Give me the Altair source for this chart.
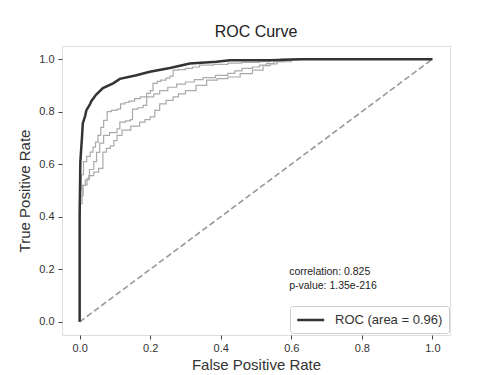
import altair as alt
import pandas as pd

# Main ROC curve (dark)
roc_fpr = [0, 0, 0.002, 0.007, 0.009, 0.016, 0.019, 0.03, 0.033, 0.047, 0.066, 0.095, 0.114,
           0.161, 0.199, 0.256, 0.3125, 0.388, 0.426, 0.54, 0.63, 1.0]
roc_tpr = [0, 0.40, 0.61, 0.71, 0.755, 0.786, 0.805, 0.83, 0.84, 0.865, 0.89, 0.908, 0.925,
           0.939, 0.952, 0.966, 0.983, 0.99, 0.996, 0.996, 1.0, 1.0]

# Gray ROC curves
g1_fpr = [0, 0, 0.005, 0.011, 0.02, 0.03, 0.038, 0.045, 0.052, 0.06, 0.068, 0.078, 0.09, 0.106,
          0.116, 0.128, 0.14, 0.156, 0.172, 0.19, 0.2, 0.208, 0.22, 0.23, 0.245, 0.256, 0.265,
          0.28, 0.30, 0.32, 0.34, 0.38, 0.42, 0.46, 0.51, 0.54, 0.57, 1.0]
g1_tpr = [0, 0.50, 0.56, 0.61, 0.63, 0.646, 0.665, 0.684, 0.71, 0.74, 0.767, 0.80, 0.805, 0.81,
          0.83, 0.835, 0.84, 0.85, 0.856, 0.87, 0.88, 0.908, 0.915, 0.92, 0.928, 0.935, 0.958,
          0.96, 0.965, 0.97, 0.977, 0.98, 0.985, 0.988, 0.99, 0.995, 1.0, 1.0]
g2_fpr = [0, 0, 0.01, 0.021, 0.028, 0.04, 0.048, 0.057, 0.068, 0.085, 0.106, 0.114, 0.13, 0.144,
          0.15, 0.165, 0.18, 0.19, 0.21, 0.227, 0.25, 0.275, 0.3, 0.325, 0.35, 0.385, 0.42, 0.44,
          0.46, 0.49, 0.51, 0.53, 0.55, 0.58, 1.0]
g2_tpr = [0, 0.48, 0.52, 0.545, 0.58, 0.61, 0.645, 0.68, 0.71, 0.72, 0.735, 0.76, 0.765, 0.77,
          0.81, 0.815, 0.824, 0.856, 0.868, 0.88, 0.893, 0.905, 0.913, 0.922, 0.93, 0.938, 0.946,
          0.955, 0.965, 0.97, 0.977, 0.983, 0.99, 1.0, 1.0]
g3_fpr = [0, 0, 0.007, 0.016, 0.026, 0.04, 0.054, 0.066, 0.076, 0.087, 0.097, 0.106, 0.12, 0.145,
          0.17, 0.185, 0.2, 0.213, 0.227, 0.245, 0.265, 0.28, 0.30, 0.33, 0.36, 0.39, 0.42, 0.455,
          0.49, 0.52, 0.54, 0.56, 0.6, 1.0]
g3_tpr = [0, 0.45, 0.52, 0.54, 0.557, 0.57, 0.584, 0.646, 0.66, 0.67, 0.69, 0.71, 0.73, 0.745,
          0.76, 0.77, 0.78, 0.805, 0.83, 0.843, 0.856, 0.868, 0.88, 0.9, 0.92, 0.926, 0.932, 0.945,
          0.958, 0.975, 0.982, 0.99, 1.0, 1.0]

diag_x = [0, 1]
diag_y = [0, 1]

ann_text = ["correlation: 0.825", "p-value: 1.35e-216"]
ann_x = [0.594, 0.594]
ann_y = [0.19, 0.137]

ticks = [0, 0.2, 0.4, 0.6, 0.8, 1.0]
legend_label = "ROC (area = 0.96)"

FONT = "Liberation Sans"

roc_df = pd.DataFrame({"fpr": roc_fpr, "tpr": roc_tpr, "order": range(len(roc_fpr)),
                       "label": legend_label})
gray_rows = []
for name, xs, ys in [("g1", g1_fpr, g1_tpr), ("g2", g2_fpr, g2_tpr), ("g3", g3_fpr, g3_tpr)]:
    for i, (a, b) in enumerate(zip(xs, ys)):
        gray_rows.append({"curve": name, "fpr": a, "tpr": b, "order": i})
gray_df = pd.DataFrame(gray_rows)
diag_df = pd.DataFrame({"fpr": diag_x, "tpr": diag_y})
ann_df = pd.DataFrame({"x": ann_x, "y": ann_y, "text": ann_text})

xscale = alt.Scale(domain=[-0.05, 1.05], nice=False, zero=False)
yscale = alt.Scale(domain=[-0.05, 1.05], nice=False, zero=False)

xaxis = alt.Axis(values=ticks, format=".1f", title="False Positive Rate", grid=False,
                 domain=False, tickColor="#444", tickSize=4, labelPadding=3,
                 labelFontSize=11, labelColor="#333", titleFontSize=15, titleColor="#333",
                 titleFontWeight="normal", labelFont=FONT, titleFont=FONT, titlePadding=4)
yaxis = alt.Axis(values=ticks, format=".1f", title="True Positive Rate", grid=False,
                 domain=False, tickColor="#444", tickSize=4, labelPadding=4,
                 labelFontSize=11, labelColor="#333", titleFontSize=15, titleColor="#333",
                 titleFontWeight="normal", labelFont=FONT, titleFont=FONT, titlePadding=6)

diag = alt.Chart(diag_df).mark_line(color="#999999", strokeWidth=1.6, strokeDash=[6, 3]).encode(
    x=alt.X("fpr:Q", scale=xscale, axis=xaxis),
    y=alt.Y("tpr:Q", scale=yscale, axis=yaxis),
)

gray = alt.Chart(gray_df).mark_line(color="#aaaaaa", strokeWidth=1.2, interpolate="step-after").encode(
    x=alt.X("fpr:Q", scale=xscale, axis=xaxis),
    y=alt.Y("tpr:Q", scale=yscale, axis=yaxis),
    detail="curve:N",
    order="order:Q",
)

roc = alt.Chart(roc_df).mark_line(strokeWidth=2.5).encode(
    x=alt.X("fpr:Q", scale=xscale, axis=xaxis),
    y=alt.Y("tpr:Q", scale=yscale, axis=yaxis),
    order="order:Q",
    color=alt.Color("label:N", scale=alt.Scale(domain=[legend_label], range=["#333333"]),
                    legend=alt.Legend(title=None, orient="none", legendX=228, legendY=260,
                                      symbolType="M-1,0H3", symbolSize=182,
                                      symbolStrokeWidth=2.5, labelFontSize=13,
                                      labelFont=FONT, labelColor="#333",
                                      fillColor="white", strokeColor="#cccccc",
                                      cornerRadius=3, padding=6, labelOffset=23)),
)

ann = alt.Chart(ann_df).mark_text(align="left", baseline="middle", fontSize=10.5, font=FONT,
                                  color="#222").encode(
    x=alt.X("x:Q", scale=xscale, axis=xaxis),
    y=alt.Y("y:Q", scale=yscale, axis=yaxis),
    text="text:N",
)

chart = alt.layer(diag, gray, roc, ann).properties(
    width=388, height=289,
    title=alt.TitleParams("ROC Curve", fontSize=16, font=FONT, fontWeight="normal",
                          color="#222", offset=6),
    padding={"left": 9, "top": 16, "right": 5, "bottom": 5},
).configure_view(stroke="#444", strokeWidth=1.4).configure(background="white")

chart.save("out.html", embed_options={"renderer": "svg", "actions": False})
